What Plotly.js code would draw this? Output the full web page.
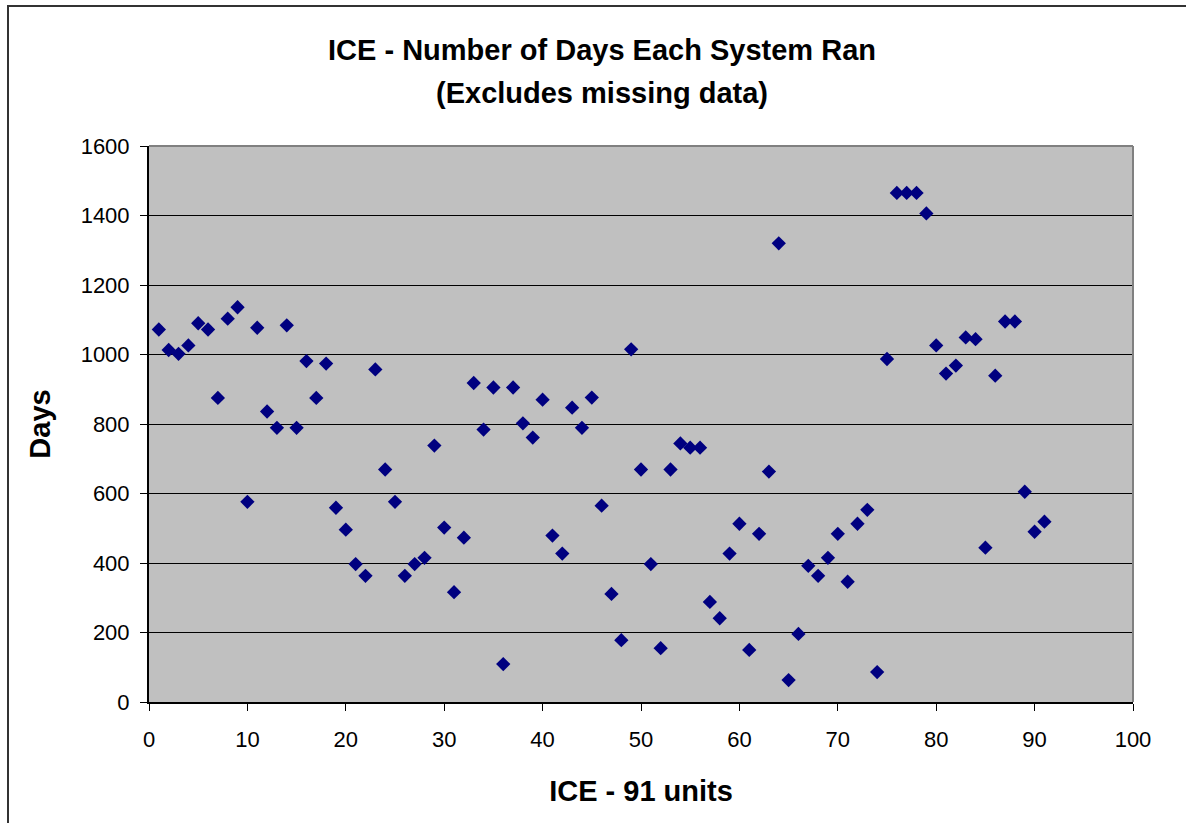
<!DOCTYPE html>
<html>
<head>
<meta charset="utf-8">
<script src="https://cdn.plot.ly/plotly-3.0.1.min.js"></script>
<style>
  html, body { margin: 0; padding: 0; background: #ffffff; }
  #wrap { position: relative; width: 1186px; height: 823px; overflow: hidden; }
  #frame { position: absolute; left: 7px; top: 5px; width: 1200px; height: 840px;
           border-left: 2px solid #333333; border-top: 2px solid #333333; box-sizing: border-box; pointer-events: none; }
  #chart { position: absolute; left: 0; top: 0; width: 1186px; height: 823px; }
</style>
</head>
<body>
<div id="wrap">
  <div id="chart"></div>
  <div id="frame"></div>
</div>
<script>
// Unit index (1..91) and number of days each system ran
const units = [
  1, 2, 3, 4, 5, 6, 7, 8, 9, 10,
  11, 12, 13, 14, 15, 16, 17, 18, 19, 20,
  21, 22, 23, 24, 25, 26, 27, 28, 29, 30,
  31, 32, 33, 34, 35, 36, 37, 38, 39, 40,
  41, 42, 43, 44, 45, 46, 47, 48, 49, 50,
  51, 52, 53, 54, 55, 56, 57, 58, 59, 60,
  61, 62, 63, 64, 65, 66, 67, 68, 69, 70,
  71, 72, 73, 74, 75, 76, 77, 78, 79, 80,
  81, 82, 83, 84, 85, 86, 87, 88, 89, 90,
  91
];
const days = [
  1072, 1013, 1002, 1026, 1090, 1072, 875, 1103, 1136, 576,
  1077, 836, 789, 1084, 789, 981, 875, 974, 559, 496,
  397, 363, 957, 669, 576, 363, 397, 415, 738, 502,
  316, 473, 918, 784, 905, 109, 905, 802, 761, 870,
  479, 427, 847, 789, 876, 565, 311, 178, 1015, 669,
  397, 155, 669, 744, 732, 732, 288, 241, 427, 513,
  150, 484, 663, 1320, 63, 196, 392, 363, 415, 484,
  346, 513, 553, 86, 987, 1465, 1465, 1465, 1406, 1026,
  945, 968, 1049, 1044, 444, 939, 1095, 1095, 605, 490,
  519
];

const xTicks = [0, 10, 20, 30, 40, 50, 60, 70, 80, 90, 100];
const yTicks = [0, 200, 400, 600, 800, 1000, 1200, 1400, 1600];

const titleLine1 = 'ICE - Number of Days Each System Ran';
const titleLine2 = '(Excludes missing data)';

const FONT = 'Liberation Sans, Arial, sans-serif';

const trace = {
  type: 'scatter',
  mode: 'markers',
  x: units,
  y: days,
  marker: { symbol: 'diamond', size: 11, color: '#000080', line: { width: 0 } },
  hoverinfo: 'x+y'
};

const layout = {
  width: 1186,
  height: 823,
  margin: { l: 149, r: 53, t: 146, b: 121, pad: 0 },
  paper_bgcolor: '#ffffff',
  plot_bgcolor: '#c0c0c0',
  showlegend: false,
  font: { family: FONT, color: '#000000', size: 22 },
  title: {
    text: '<b>' + titleLine1 + '</b>',
    font: { family: FONT, size: 29, color: '#000000' },
    xref: 'container', yref: 'container',
    x: 0.5076, xanchor: 'center',
    y: 1 - 50 / 823, yanchor: 'middle'
  },
  annotations: [
    {
      text: '<b>' + titleLine2 + '</b>',
      font: { family: FONT, size: 29, color: '#000000' },
      xref: 'paper', yref: 'paper',
      x: (602 - 149) / 984, xanchor: 'center',
      y: 1 + (146 - 93) / 556, yanchor: 'middle',
      showarrow: false
    }
  ],
  xaxis: {
    range: [0, 100],
    tickvals: xTicks,
    ticktext: xTicks.map(String),
    ticks: 'outside', ticklen: 7, tickwidth: 1, tickcolor: '#000000',
    ticklabelstandoff: 10,
    showline: true, linecolor: '#000000', linewidth: 2,
    showgrid: false, zeroline: false,
    tickfont: { family: FONT, size: 22, color: '#000000' },
    title: { text: '<b>ICE - 91 units</b>', font: { family: FONT, size: 29, color: '#000000' }, standoff: 29 },
    fixedrange: true
  },
  yaxis: {
    range: [0, 1600],
    tickvals: yTicks,
    ticktext: yTicks.map(String),
    ticks: 'outside', ticklen: 7, tickwidth: 1, tickcolor: '#000000',
    ticklabelstandoff: 6,
    showline: true, linecolor: '#000000', linewidth: 2,
    showgrid: true, gridcolor: '#000000', gridwidth: 1,
    zeroline: false,
    tickfont: { family: FONT, size: 22, color: '#000000' },
    title: { text: '<b>Days</b>', font: { family: FONT, size: 29, color: '#000000' }, standoff: 21 },
    fixedrange: true
  },
  shapes: [
    // grey frame along the top and right of the plotting area
    { type: 'line', xref: 'paper', yref: 'paper', x0: 0, x1: 1, y0: 1, y1: 1, line: { color: '#808080', width: 2 } },
    { type: 'line', xref: 'paper', yref: 'paper', x0: 1, x1: 1, y0: 0, y1: 1, line: { color: '#808080', width: 2 } }
  ]
};

Plotly.newPlot('chart', [trace], layout, { displayModeBar: false, staticPlot: true });
</script>
</body>
</html>
